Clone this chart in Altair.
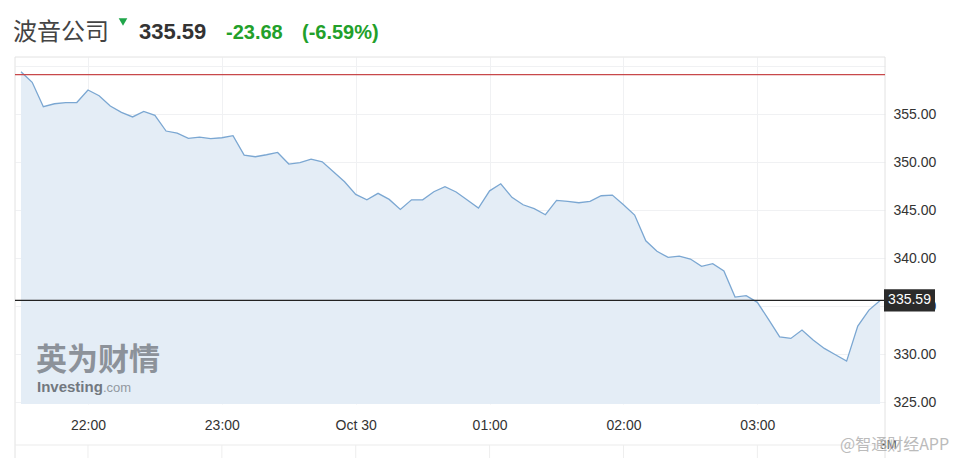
import altair as alt
import pandas as pd

# ---------------- data ----------------
times = pd.date_range("2018-10-29 21:30", periods=78, freq="5min")
prices = [
    359.40, 358.30, 355.76, 356.07, 356.18, 356.20, 357.50, 356.90, 355.83, 355.17,
    354.70, 355.28, 354.86, 353.23, 353.02, 352.46, 352.60, 352.43, 352.53, 352.74,
    350.73, 350.55, 350.76, 351.00, 349.79, 349.93, 350.31, 350.03, 348.99, 347.95,
    346.63, 346.07, 346.74, 346.11, 345.07, 346.07, 346.07, 346.91, 347.43, 346.88,
    346.04, 345.21, 347.00, 347.74, 346.32, 345.55, 345.14, 344.51, 346.00, 345.90,
    345.76, 345.90, 346.49, 346.56, 345.56, 344.48, 341.80, 340.70, 340.07, 340.21,
    339.90, 339.13, 339.41, 338.65, 335.94, 336.08, 335.39, 333.61, 331.80, 331.63,
    332.50, 331.46, 330.59, 329.93, 329.27, 332.92, 334.58, 335.59,
]
tick_minutes = [-120, -60, 0, 60, 120, 180]
y_ticks = [325, 330, 335, 340, 345, 350, 355, 360]
prev_close_line = 359.1
last_price = 335.59
title_text = "波音公司"
price_text = "335.59"
change_text = "-23.68"
pct_text = "(-6.59%)"

midnight = pd.Timestamp("2018-10-30 00:00")
df = pd.DataFrame({
    "t": [(t - midnight).total_seconds() / 60 for t in times],
    "price": prices,
})
one = pd.DataFrame({"a": [0]})
navi = pd.DataFrame({"t": tick_minutes})

Y_MIN, Y_MAX = 324.8, 360.94
xs = alt.Scale(domain=[-152.7, 237.2], nice=False, zero=False)
ys = alt.Scale(domain=[Y_MIN, Y_MAX], nice=False, zero=False)

GRID = "#f0f1f3"
BORDER = "#e2e2e2"
GREEN = "#22a02a"

x_axis = alt.Axis(
    values=tick_minutes, grid=True, gridColor=GRID, domain=False, ticks=False,
    labelExpr="datum.value == 0 ? 'Oct 30' : timeFormat(datetime(2018, 9, 30, 0, datum.value), '%H:%M')",
    labelFont="Liberation Sans", labelFontSize=14, labelColor="#333333",
    labelPadding=14, title=None,
)
y_axis = alt.Axis(
    orient="right", values=y_ticks, grid=True, gridColor=GRID, domain=False, ticks=False,
    labelExpr="datum.value > 359 ? '' : format(datum.value, '.2f')",
    labelFont="Liberation Sans", labelFontSize=14, labelColor="#333333",
    labelPadding=8, title=None,
)

area = alt.Chart(df).mark_area(color="#e4edf6", opacity=1).encode(
    x=alt.X("t:Q", scale=xs, axis=x_axis),
    y=alt.Y("price:Q", scale=ys, axis=y_axis),
    y2=alt.Y2(datum=Y_MIN),
)
line = alt.Chart(df).mark_line(color="#7ba7d2", strokeWidth=1.3).encode(
    x=alt.X("t:Q", scale=xs), y=alt.Y("price:Q", scale=ys)
)

red = alt.Chart(one).mark_rule(color="#c8484a", strokeWidth=1.4).encode(
    y=alt.Y(datum=prev_close_line, scale=ys)
)
black = alt.Chart(one).mark_rule(color="#222222", strokeWidth=1.2).encode(
    y=alt.Y(datum=last_price, scale=ys)
)
box = alt.Chart(one).mark_rect(color="#2b2b2b").encode(
    x=alt.value(869), x2=alt.value(920),
    y=alt.Y(datum=last_price + 1.15, scale=ys), y2=alt.Y2(datum=last_price - 1.15),
)
box_text = alt.Chart(one).mark_text(
    text=price_text, color="white", font="Liberation Sans", fontSize=14,
    align="center", baseline="middle",
).encode(x=alt.value(894.5), y=alt.Y(datum=last_price, scale=ys))

# borders
borders = [
    alt.Chart(one).mark_rule(color=BORDER, strokeWidth=1).encode(
        x=alt.value(0), x2=alt.value(870), y=alt.value(0)),
    alt.Chart(one).mark_rule(color=BORDER, strokeWidth=1).encode(
        x=alt.value(0), y=alt.value(0), y2=alt.value(409)),
    alt.Chart(one).mark_rule(color=BORDER, strokeWidth=1).encode(
        x=alt.value(870), y=alt.value(0), y2=alt.value(409)),
    alt.Chart(one).mark_rule(color="#ebebeb", strokeWidth=1).encode(
        x=alt.value(0), x2=alt.value(870), y=alt.value(388)),
    alt.Chart(navi).mark_rule(color="#eeeeee", strokeWidth=1).encode(
        x=alt.X("t:Q", scale=xs), y=alt.value(388), y2=alt.value(409)),
]
handle = alt.Chart(one).mark_rect(color="#a6d8ab").encode(
    x=alt.value(861), x2=alt.value(867), y=alt.value(402), y2=alt.value(409)
)
three_m = alt.Chart(one).mark_text(
    text="3M", color="#555555", font="Liberation Sans", fontSize=12,
    align="left", baseline="middle",
).encode(x=alt.value(865), y=alt.value(388))
wm_bottom = alt.Chart(one).mark_text(
    text="@智通财经APP", color="#b4b4b4", font="Noto Sans CJK SC", fontSize=16,
    align="left", baseline="middle", opacity=0.9,
).encode(x=alt.value(825), y=alt.value(388))

# investing watermark
wm1 = alt.Chart(one).mark_text(
    text="英为财情", color="#7d838a", font="Noto Sans CJK SC", fontSize=31,
    fontWeight="bold", align="left", baseline="middle", opacity=0.85,
).encode(x=alt.value(21), y=alt.value(304))
wm2 = alt.Chart(one).mark_text(
    text="Investing", color="#666c73", font="Liberation Sans", fontSize=15,
    fontWeight="bold", align="left", baseline="middle", opacity=0.9,
).encode(x=alt.value(22), y=alt.value(330))
wm3 = alt.Chart(one).mark_text(
    text=".com", color="#8a9097", font="Liberation Sans", fontSize=13,
    align="left", baseline="middle", opacity=0.9,
).encode(x=alt.value(88), y=alt.value(331))

# header
h_title = alt.Chart(one).mark_text(
    text=title_text, color="#444444", font="Noto Sans CJK SC", fontSize=24,
    align="left", baseline="middle",
).encode(x=alt.value(-2), y=alt.value(-24))
h_tri = alt.Chart(one).mark_point(
    shape="triangle-down", filled=True, color="#1fa64a", size=75, opacity=1,
).encode(x=alt.value(108), y=alt.value(-35))
h_price = alt.Chart(one).mark_text(
    text=price_text, color="#333333", font="Liberation Sans", fontSize=22,
    fontWeight="bold", align="left", baseline="alphabetic",
).encode(x=alt.value(124), y=alt.value(-18))
h_change = alt.Chart(one).mark_text(
    text=change_text, color=GREEN, font="Liberation Sans", fontSize=20,
    fontWeight="bold", align="left", baseline="alphabetic",
).encode(x=alt.value(211), y=alt.value(-18))
h_pct = alt.Chart(one).mark_text(
    text=pct_text, color=GREEN, font="Liberation Sans", fontSize=20,
    fontWeight="bold", align="left", baseline="alphabetic",
).encode(x=alt.value(287), y=alt.value(-18))

chart = alt.layer(
    area, line, *borders, red, black, box, box_text, handle, three_m, wm_bottom,
    wm1, wm2, wm3, h_title, h_tri, h_price, h_change, h_pct,
).properties(
    width=870, height=347,
    autosize=alt.AutoSizeParams(type="none"),
    padding={"left": 7, "top": 49, "right": 65, "bottom": 54},
    background="white",
).configure_view(stroke=None)

chart.save("out.html", embed_options={"renderer": "svg", "actions": False})
